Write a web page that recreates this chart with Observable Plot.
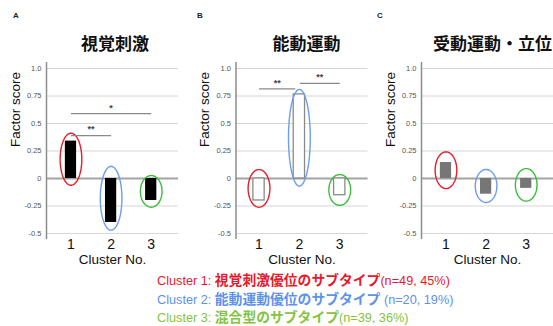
<!DOCTYPE html>
<html>
<head>
<meta charset="utf-8">
<script src="https://cdn.jsdelivr.net/npm/d3@7"></script>
<script src="https://cdn.jsdelivr.net/npm/@observablehq/plot@0.6"></script>
<style>
  html, body { margin: 0; padding: 0; background: #fff; }
  #root { position: relative; width: 553px; height: 326px; overflow: hidden; background: #fff;
          font-family: "Liberation Sans", Arial, sans-serif; }
  .panel { position: absolute; top: 0; }
  .title { position: absolute; top: 31px; transform: translateX(-50%); white-space: nowrap;
           font-family: "Noto Sans CJK JP", sans-serif; font-weight: 700; font-size: 17px; line-height: 24px; color: #111; }
  .letter { position: absolute; top: 11px; font-family: "Liberation Sans", Arial, sans-serif; font-weight: 700; font-size: 8px; color: #222; }
  #legend { position: absolute; left: 157px; top: 271px; font-size: 12.7px; line-height: 16.5px; white-space: nowrap; }
  #legend .jp { font-family: "Noto Sans CJK JP", sans-serif; font-weight: 700; font-size: 13.8px; }
</style>
</head>
<body>
<div id="root"></div>
<script>
// ---- data ----
const clusters = [1, 2, 3];
const clusterTickLabels = ["1", "2", "3"];
const yTicks = [-0.5, -0.25, 0, 0.25, 0.5, 0.75, 1.0];
const yTickLabels = ["-0.5", "-0.25", "0", "0.25", "0.5", "0.75", "1.0"];

const panelLetters = ["A", "B", "C"];
const panelTitles = ["視覚刺激", "能動運動", "受動運動・立位"];

const visualScores = [0.34, -0.40, -0.20];
const activeScores = [-0.20, 0.765, -0.152];
const passiveScores = [0.145, -0.143, -0.09];

// ellipse annotations (centre and half-height in factor score units)
const ellipseCentersA = [0.175, -0.18, -0.117];
const ellipseHalfA = [0.237, 0.29, 0.144];
const ellipseCentersB = [-0.09, 0.37, -0.104];
const ellipseHalfB = [0.171, 0.44, 0.14];
const ellipseCentersC = [0.075, -0.068, -0.058];
const ellipseHalfC = [0.167, 0.15, 0.148];
const clusterColors = ["#e3202a", "#6d9eeb", "#3dbb3d"];

// significance brackets
const sigAFrom = [1, 1], sigATo = [2, 3], sigAY = [0.39, 0.59], sigALabel = ["**", "*"];
const sigBFrom = [1, 2.01], sigBTo = [1.9, 3], sigBY = [0.815, 0.866], sigBLabel = ["**", "**"];

const legendLines = [
  {pre: "Cluster 1: ", jp: "視覚刺激優位のサブタイプ", post: "(n=49, 45%)", color: "#e8192c"},
  {pre: "Cluster 2: ", jp: "能動運動優位のサブタイプ", post: " (n=20, 19%)", color: "#5d92ea"},
  {pre: "Cluster 3: ", jp: "混合型のサブタイプ", post: "(n=39, 36%)", color: "#84c441"}
];

// ---- drawing ----
const root = document.getElementById("root");
const yDomain = [-0.555, 1.055];

function ellipsePoints(centers, halves) {
  const pts = [];
  centers.forEach((cy, i) => {
    for (let k = 0; k <= 72; k++) {
      const t = (k / 72) * 2 * Math.PI;
      pts.push({i, x: clusters[i] + 0.27 * Math.cos(t), y: cy + halves[i] * Math.sin(t)});
    }
  });
  return pts;
}

function makePanel(opts) {
  const {left, width, marginLeft, xDomain, scores, barFill, barStroke, eCenters, eHalf, sig} = opts;
  const bars = clusters.map((c, i) => ({c, v: scores[i]}));
  const ell = ellipsePoints(eCenters, eHalf);
  const marks = [
    Plot.ruleY(yTicks, {stroke: "#d6d6d6", strokeWidth: 1}),
    Plot.ruleY([0], {stroke: "#a3a3a3", strokeWidth: 2}),
    Plot.ruleX([xDomain[0]], {stroke: "#8c8c8c", strokeWidth: 1.5}),
    Plot.rectY(bars, {x1: d => d.c - 0.14, x2: d => d.c + 0.14, y1: 0, y2: "v",
      fill: barFill, stroke: barStroke, strokeWidth: barStroke === "none" ? 0 : 1.3}),
    ...clusterColors.map((col, i) =>
      Plot.line(ell.filter(p => p.i === i), {x: "x", y: "y", stroke: col, strokeWidth: 1.4})),
    Plot.text(yTicks, {y: d => d, text: (d, i) => yTickLabels[i], frameAnchor: "left",
      dx: -5, textAnchor: "end", fontSize: 7.5, fill: "#555"}),
    Plot.text(clusters, {x: d => d, text: (d, i) => clusterTickLabels[i], frameAnchor: "bottom",
      dy: 9, fontSize: 14, fill: "#111"}),
    Plot.text(["Cluster No."], {frameAnchor: "bottom", dy: 24, fontSize: 13.5, fill: "#111"}),
    Plot.text(["Factor score"], {frameAnchor: "left", dx: -31, dy: -4, rotate: -90, fontSize: 13.5, fill: "#111"})
  ];
  if (sig) {
    const s = sig.from.map((f, i) => ({x1: f, x2: sig.to[i], y: sig.y[i], label: sig.label[i]}));
    marks.push(Plot.link(s, {x1: "x1", x2: "x2", y1: "y", y2: "y", stroke: "#8a8a8a", strokeWidth: 1.3}));
    marks.push(Plot.text(s, {x: d => (d.x1 + d.x2) / 2, y: "y", text: "label", dy: -6, fontSize: 9, fontWeight: "bold", fill: "#444"}));
  }
  const svg = Plot.plot({
    width, height: 326,
    marginLeft, marginRight: width - marginLeft - 132, marginTop: 62, marginBottom: 87,
    x: {domain: xDomain, axis: null},
    y: {domain: yDomain, axis: null},
    style: {background: "transparent", overflow: "visible", fontFamily: "'Liberation Sans', Arial, sans-serif"},
    marks
  });
  const wrap = document.createElement("div");
  wrap.className = "panel";
  wrap.style.left = left + "px";
  wrap.appendChild(svg);
  root.appendChild(wrap);
}

makePanel({left: 0, width: 185, marginLeft: 46, xDomain: [0.39, 3.68], scores: visualScores,
  barFill: "#000", barStroke: "none", eCenters: ellipseCentersA, eHalf: ellipseHalfA,
  sig: {from: sigAFrom, to: sigATo, y: sigAY, label: sigALabel}});
makePanel({left: 185, width: 183, marginLeft: 50.5, xDomain: [0.43, 3.70], scores: activeScores,
  barFill: "#fff", barStroke: "#8a8a8a", eCenters: ellipseCentersB, eHalf: ellipseHalfB,
  sig: {from: sigBFrom, to: sigBTo, y: sigBY, label: sigBLabel}});
makePanel({left: 368, width: 185, marginLeft: 53, xDomain: [0.39, 3.68], scores: passiveScores,
  barFill: "#767676", barStroke: "none", eCenters: ellipseCentersC, eHalf: ellipseHalfC, sig: null});

// titles and letters
const titleX = [115, 306.5, 492.5];
const letterX = [13, 197, 377];
panelTitles.forEach((t, i) => {
  const d = document.createElement("div");
  d.className = "title"; d.style.left = titleX[i] + "px"; d.textContent = t;
  root.appendChild(d);
  const l = document.createElement("div");
  l.className = "letter"; l.style.left = letterX[i] + "px"; l.textContent = panelLetters[i];
  root.appendChild(l);
});

// legend
const leg = document.createElement("div");
leg.id = "legend";
legendLines.forEach(L => {
  const row = document.createElement("div");
  row.style.color = L.color;
  const a = document.createElement("span"); a.textContent = L.pre;
  const b = document.createElement("span"); b.className = "jp"; b.textContent = L.jp;
  const c = document.createElement("span"); c.textContent = L.post;
  row.append(a, b, c);
  leg.appendChild(row);
});
root.appendChild(leg);
</script>
</body>
</html>
